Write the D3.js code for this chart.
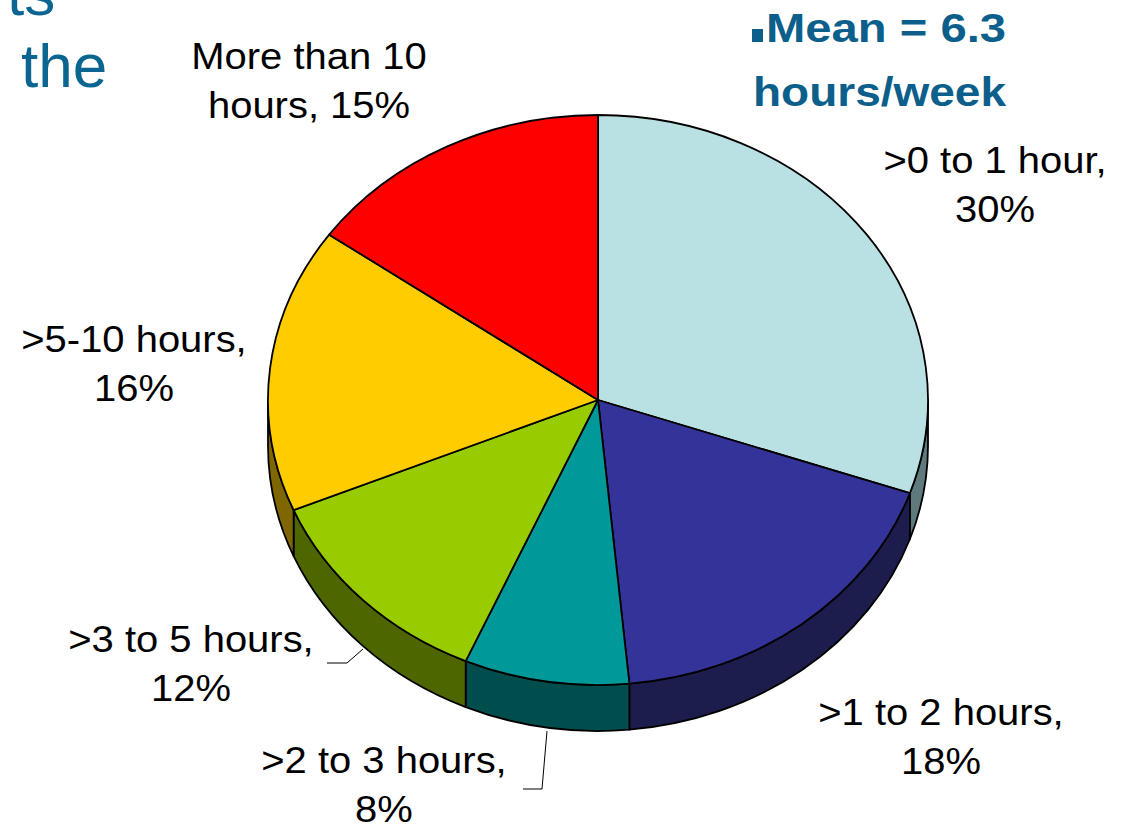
<!DOCTYPE html>
<html>
<head>
<meta charset="utf-8">
<script src="https://cdn.jsdelivr.net/npm/d3@7"></script>
<style>
  html, body { margin: 0; padding: 0; background: #fff; }
  svg { display: block; }
</style>
</head>
<body>
<svg id="chart" width="1128" height="833"></svg>
<script>
// ---- data ----
const categories = [">0 to 1 hour", ">1 to 2 hours", ">2 to 3 hours", ">3 to 5 hours", ">5-10 hours", "More than 10 hours"];
const values = [30, 18, 8, 12, 16, 15];
const labelLines = [
  [">0 to 1 hour,", "30%"],
  [">1 to 2 hours,", "18%"],
  [">2 to 3 hours,", "8%"],
  [">3 to 5 hours,", "12%"],
  [">5-10 hours,", "16%"],
  ["More than 10", "hours, 15%"]
];
const titleLines = ["ts", "the"];
const meanLines = ["Mean = 6.3", "hours/week"];

// ---- styles / layout ----
const topColors  = ["#B9E0E3", "#333399", "#009999", "#99CC00", "#FFCC00", "#FF0000"];
const sideColors = ["#5E7A7C", "#1C1C4D", "#004D4D", "#4D6600", "#806600", "#800000"];
const cx = 598, cy = 400, rx = 330, ry = 285, depth = 46;
const labelPos = [[995, 173], [941, 725], [384, 773], [191, 652], [134, 352], [309, 69]];
const lineGap = 49;

const svg = d3.select("#chart");

const pie = d3.pie().value(d => d).sort(null);
const arcs = pie(values);

const P = (a, dy = 0) => [cx + rx * Math.sin(a), cy - ry * Math.cos(a) + dy];

// side walls (front half only: pi/2 .. 3pi/2)
const sideG = svg.append("g");
arcs.forEach((d, i) => {
  const a0 = Math.max(d.startAngle, Math.PI / 2);
  const a1 = Math.min(d.endAngle, 3 * Math.PI / 2);
  if (a1 <= a0) return;
  const p0 = P(a0), p1 = P(a1), q1 = P(a1, depth), q0 = P(a0, depth);
  const large = (a1 - a0) > Math.PI ? 1 : 0;
  const path = `M${p0[0]},${p0[1]} A${rx},${ry} 0 ${large} 1 ${p1[0]},${p1[1]} L${q1[0]},${q1[1]} A${rx},${ry} 0 ${large} 0 ${q0[0]},${q0[1]} Z`;
  sideG.append("path")
    .attr("d", path)
    .attr("fill", sideColors[i])
    .attr("stroke", "#000")
    .attr("stroke-width", 1.8)
    .attr("stroke-linejoin", "round");
});

// top faces
const arc = d3.arc().innerRadius(0).outerRadius(rx);
svg.append("g")
  .attr("transform", `translate(${cx},${cy}) scale(1,${ry / rx})`)
  .selectAll("path")
  .data(arcs)
  .join("path")
  .attr("d", arc)
  .attr("fill", (d, i) => topColors[i])
  .attr("stroke", "#000")
  .attr("stroke-width", 1.8)
  .attr("vector-effect", "non-scaling-stroke")
  .attr("stroke-linejoin", "round");

// leader lines
const leaders = [
  [[327, 663], [347, 663], [363, 649]],
  [[523, 789], [542, 789], [547, 731]]
];
svg.append("g").selectAll("polyline").data(leaders).join("polyline")
  .attr("points", d => d.map(p => p.join(",")).join(" "))
  .attr("fill", "none")
  .attr("stroke", "#000")
  .attr("stroke-width", 1);

// labels
const lab = svg.append("g")
  .attr("font-family", "'Liberation Sans', Arial, sans-serif")
  .attr("font-size", 37)
  .attr("fill", "#000");
labelLines.forEach((lines, i) => {
  const [x, y] = labelPos[i];
  const g = lab.append("g").attr("transform", `translate(${x},${y}) scale(1.08,1)`);
  lines.forEach((t, j) => {
    g.append("text").attr("x", 0).attr("y", j * lineGap)
      .attr("text-anchor", "middle").text(t);
  });
});

// title fragment
const tg = svg.append("g")
  .attr("font-family", "'Liberation Sans', Arial, sans-serif")
  .attr("font-size", 62)
  .attr("fill", "#0A6591");
tg.append("text").attr("x", 7).attr("y", 15).text(titleLines[0]);
tg.append("text").attr("x", 21).attr("y", 87).text(titleLines[1]);

// mean annotation
const mg = svg.append("g").attr("fill", "#0B5F8A");
mg.append("rect").attr("x", 752).attr("y", 29).attr("width", 11).attr("height", 13);
const mt = mg.append("g")
  .attr("font-family", "'Liberation Sans', Arial, sans-serif")
  .attr("font-weight", "bold")
  .attr("font-size", 40);
mt.append("g").attr("transform", "translate(766,42) scale(1.18,1)")
  .append("text").text(meanLines[0]);
mt.append("g").attr("transform", "translate(753,106) scale(1.15,1)")
  .append("text").text(meanLines[1]);
</script>
</body>
</html>
